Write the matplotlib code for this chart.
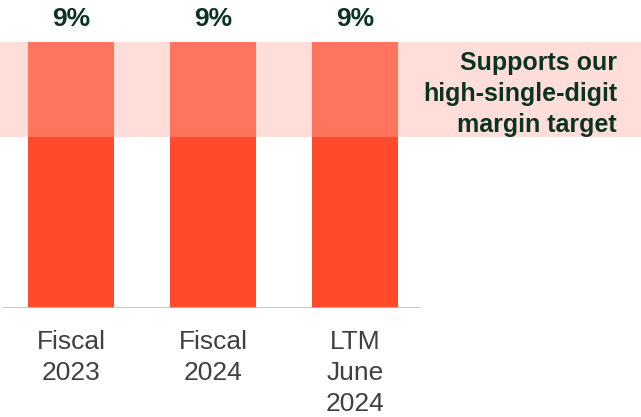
import matplotlib
matplotlib.use("Agg")
import matplotlib.pyplot as plt

categories = ["Fiscal\n2023", "Fiscal\n2024", "LTM\nJune\n2024"]
margins = [9, 9, 9]                 # percent
target_low, target_high = 5.8, 9.0  # high-single-digit target band
target_text = "Supports our\nhigh-single-digit\nmargin target"

BAR = "#FF4B2B"
BAND = "#FFAEA3"
GREEN = "#0B3322"
GREY = "#404040"

plt.rcParams["font.family"] = ["Liberation Sans", "DejaVu Sans"]

fig = plt.figure(figsize=(6.41, 4.17), dpi=100)
ax = fig.add_axes([0, 109 / 417, 1, 308 / 417])

x = list(range(len(categories)))
ax.bar(x, margins, width=86 / 142, color=BAR, zorder=2)
ax.axhspan(target_low, target_high, color=BAND, alpha=0.42, lw=0, zorder=3)

for xi, v in zip(x, margins):
    ax.text(xi, v + 0.38, f"{v}%", ha="center", va="bottom",
            fontsize=19, fontweight="bold", color=GREEN)

ax.text(3.845, (target_low + target_high) / 2 - 0.15, target_text,
        ha="right", va="center", fontsize=18, fontweight="bold",
        color=GREEN, linespacing=1.37)

ax.set_xlim(-0.5, -0.5 + 641 / 142)
ax.set_ylim(0, 308 / (266 / 9))
ax.axhline(0, xmin=3 / 641, xmax=420 / 641, color="#BFBFBF", lw=1.2, zorder=4)

ax.set_xticks(x, categories, fontsize=19, color=GREY, linespacing=1.35)
ax.tick_params(axis="x", length=0, pad=16)
ax.set_yticks([])
for s in ax.spines.values():
    s.set_visible(False)

fig.savefig("out.png", dpi=100)
